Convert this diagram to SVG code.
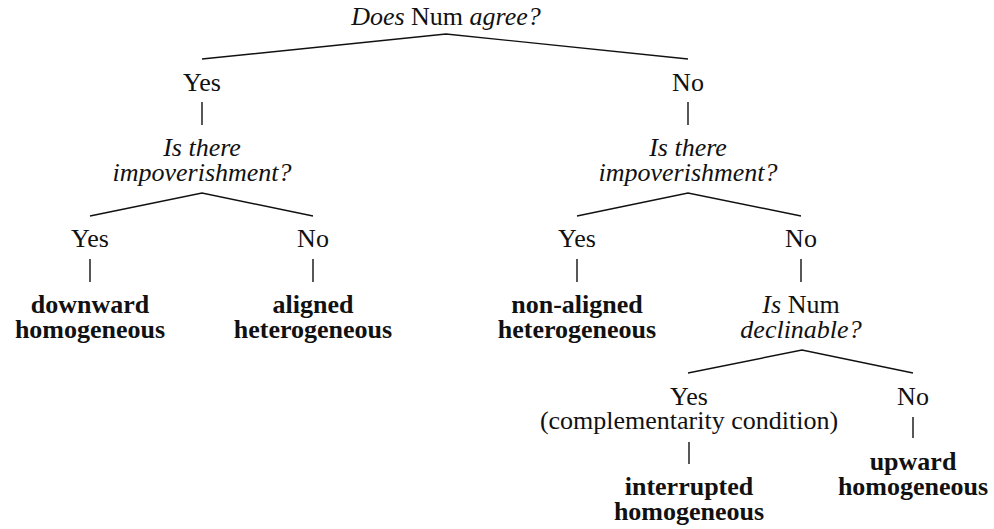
<svg xmlns="http://www.w3.org/2000/svg" width="994" height="529" viewBox="0 0 994 529">
  <style>
    text { font-family: "Liberation Serif", "Times New Roman", serif; font-size: 26px; fill: #111; text-anchor: middle; }
    .q { font-style: italic; }
    .leaf { font-weight: bold; }
    .edge { stroke: #111; stroke-width: 1.4; fill: none; }
  </style>
  <rect width="994" height="529" fill="#ffffff"/>

  <!-- connectors -->
  <g id="connectors">
    <polyline class="edge" points="202,59 446,34 688,59"/>
    <line class="edge" x1="202" y1="102" x2="202" y2="125"/>
    <line class="edge" x1="688" y1="102" x2="688" y2="125"/>
    <polyline class="edge" points="90,216 202,193 313,216"/>
    <polyline class="edge" points="577,216 688,193 801,216"/>
    <line class="edge" x1="90" y1="259" x2="90" y2="282"/>
    <line class="edge" x1="313" y1="259" x2="313" y2="282"/>
    <line class="edge" x1="577" y1="259" x2="577" y2="282"/>
    <line class="edge" x1="801" y1="259" x2="801" y2="282"/>
    <polyline class="edge" points="688,373 802,350 913,373"/>
    <line class="edge" x1="913" y1="417" x2="913" y2="438"/>
    <line class="edge" x1="689" y1="442" x2="689" y2="464"/>
  </g>

  <!-- root question -->
  <g id="q-agree">
    <text x="446" y="25"><tspan class="q">Does</tspan> Num <tspan class="q">agree?</tspan></text>
  </g>

  <!-- first answers -->
  <g id="a-yes"><text x="202" y="91">Yes</text></g>
  <g id="a-no"><text x="688" y="91">No</text></g>

  <!-- impoverishment questions -->
  <g id="q-impov-left">
    <text class="q" x="202" y="156">Is there<tspan x="202" dy="25">impoverishment?</tspan></text>
  </g>
  <g id="q-impov-right">
    <text class="q" x="688" y="156">Is there<tspan x="688" dy="25">impoverishment?</tspan></text>
  </g>

  <!-- second answers -->
  <g id="l-yes"><text x="90" y="247">Yes</text></g>
  <g id="l-no"><text x="313" y="247">No</text></g>
  <g id="r-yes"><text x="577" y="247">Yes</text></g>
  <g id="r-no"><text x="801" y="247">No</text></g>

  <!-- outcomes -->
  <g id="downward-homogeneous">
    <text class="leaf" x="90" y="313">downward<tspan x="90" dy="25">homogeneous</tspan></text>
  </g>
  <g id="aligned-heterogeneous">
    <text class="leaf" x="313" y="313">aligned<tspan x="313" dy="25">heterogeneous</tspan></text>
  </g>
  <g id="nonaligned-heterogeneous">
    <text class="leaf" x="577" y="313">non-aligned<tspan x="577" dy="25">heterogeneous</tspan></text>
  </g>

  <!-- declinability question -->
  <g id="q-declinable">
    <text x="801" y="313"><tspan class="q">Is</tspan> Num<tspan class="q" x="801" dy="25">declinable?</tspan></text>
  </g>

  <g id="d-yes">
    <text x="689" y="405">Yes<tspan x="689" dy="24">(complementarity condition)</tspan></text>
  </g>
  <g id="d-no"><text x="913" y="405">No</text></g>

  <g id="interrupted-homogeneous">
    <text class="leaf" x="689" y="495">interrupted<tspan x="689" dy="25">homogeneous</tspan></text>
  </g>
  <g id="upward-homogeneous">
    <text class="leaf" x="913" y="470">upward<tspan x="913" dy="25">homogeneous</tspan></text>
  </g>
</svg>
